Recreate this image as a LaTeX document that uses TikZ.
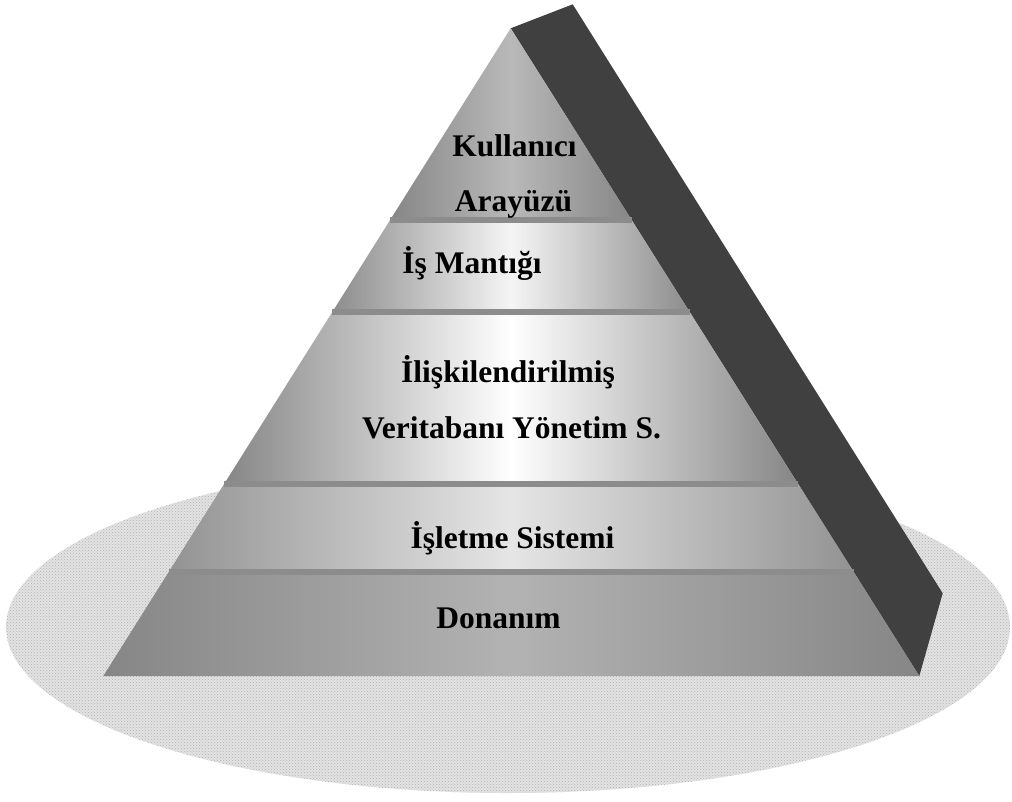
\documentclass[tikz,border=0pt]{standalone}
\usepackage{fontspec}
\setmainfont{Liberation Serif}
\usetikzlibrary{patterns}

\tikzset{
	katman/.style={font=\fontsize{31.5}{38}\selectfont\bfseries, anchor=base, inner sep=0pt},
	ayrac/.style={line width=6, gray!90},
}

\begin{document}
\begin{tikzpicture}[x=1pt, y=-1pt]
			\useasboundingbox (0, 0) rectangle (1012, 801);

			\fill [gray!22] (508, 627) ellipse [x radius=502, y radius=166];
			\fill [pattern=crosshatch dots, pattern color=gray!60] (508, 627) ellipse [x radius=502, y radius=166];

			\fill [black!75] (510.7, 28.3) -- (572.7, 4.3) -- (942.7, 593.3) -- (919.3, 676) -- cycle;

			\shade [left color=gray!95, right color=gray!95, middle color=gray!55] (510.7, 28.3) -- (631.7, 220) -- (390.1, 220) -- cycle;
			\shade [left color=gray!90, right color=gray!90, middle color=gray!8] (390.1, 220) -- (631.7, 220) -- (689.7, 312) -- (332.3, 312) -- cycle;
			\shade [left color=gray!95, right color=gray!95, middle color=white] (332.3, 312) -- (689.7, 312) -- (798.2, 484) -- (224.1, 484) -- cycle;
			\shade [left color=gray!85, right color=gray!85, middle color=gray!20] (224.1, 484) -- (798.2, 484) -- (853.8, 572) -- (168.7, 572) -- cycle;
			\shade [left color=gray!95, right color=gray!95, middle color=gray!60] (168.7, 572) -- (853.8, 572) -- (919.3, 676) -- (103.3, 676) -- cycle;

			\draw [ayrac] (390.1, 220) -- (631.7, 220);
			\draw [ayrac] (332.3, 312) -- (689.7, 312);
			\draw [ayrac] (224.1, 484) -- (798.2, 484);
			\draw [ayrac] (168.7, 572) -- (853.8, 572);

			\node [katman] (kullanici) at (514.5, 156) {Kullanıcı};
			\node [katman] (arayuz) at (513.5, 211) {Arayüzü};
			\node [katman] (is) at (472, 273) {İş Mantığı};
			\node [katman] (iliski) at (508, 382) {İlişkilendirilmiş};
			\node [katman] (vtys) at (511.5, 438) {Veritabanı Yönetim S.};
			\node [katman] (isletim) at (512.5, 548) {İşletme Sistemi};
			\node [katman] (donanim) at (498.5, 628) {Donanım};
		\end{tikzpicture}
\end{document}
